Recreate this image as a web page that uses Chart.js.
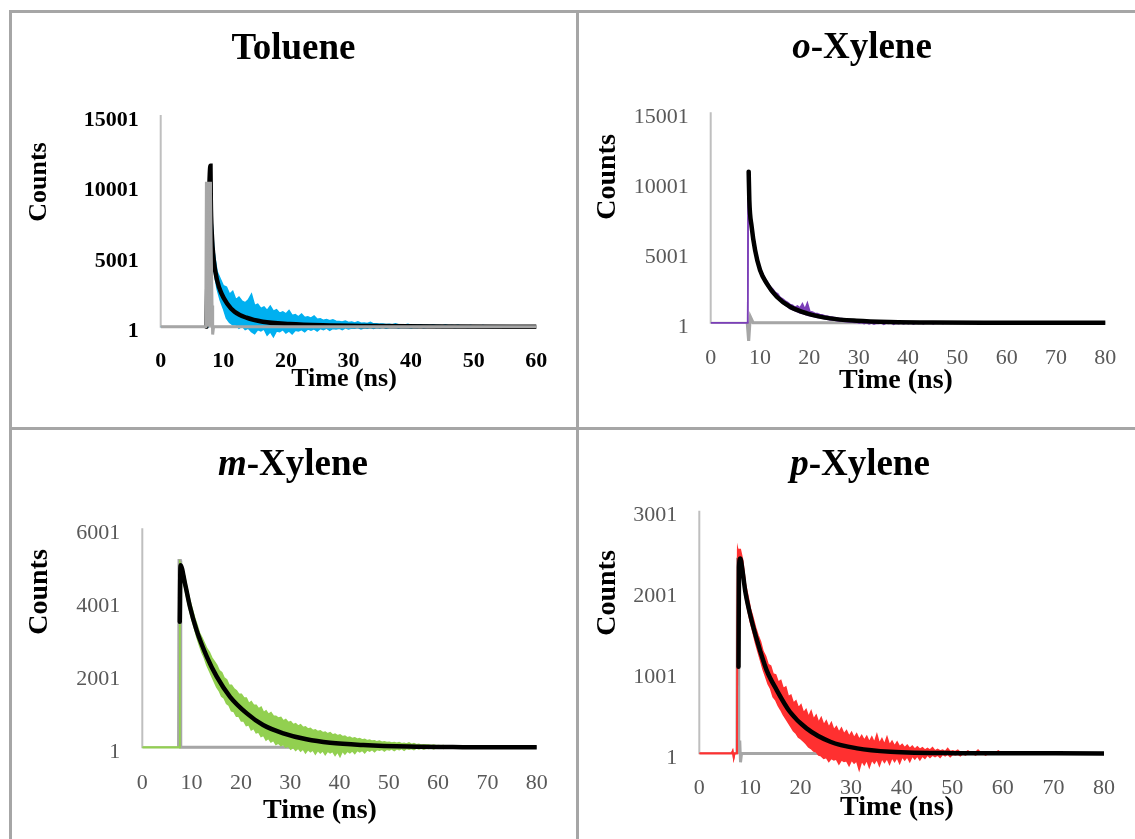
<!DOCTYPE html>
<html>
<head>
<meta charset="utf-8">
<title>Fluorescence decays</title>
<script src="https://cdn.jsdelivr.net/npm/chart.js@4.4.1/dist/chart.umd.min.js"></script>
<style>
  html, body { margin: 0; padding: 0; background: #fff; }
  #page { position: relative; width: 1135px; height: 839px; overflow: hidden; }
  .rule { position: absolute; background: #a6a6a6; }
  canvas { position: absolute; left: 0; top: 0; }
</style>
</head>
<body>
<div id="page">
  <div class="rule" style="left:9px;top:10px;width:1126px;height:3px"></div>
  <div class="rule" style="left:9px;top:10px;width:3px;height:829px"></div>
  <div class="rule" style="left:576px;top:10px;width:3px;height:829px"></div>
  <div class="rule" style="left:9px;top:427px;width:1126px;height:3px"></div>
  <canvas id="toluene" width="1135" height="839"></canvas>
  <canvas id="oxylene" width="1135" height="839"></canvas>
  <canvas id="mxylene" width="1135" height="839"></canvas>
  <canvas id="pxylene" width="1135" height="839"></canvas>
</div>
<script>
// Noisy counts are kept as the upper / lower edge of the scatter band,
// sampled every half nanosecond after a short lead-in.

// ---------- Toluene ----------
const tolTimeTicks = [0, 10, 20, 30, 40, 50, 60];
const tolCountTicks = [1, 5001, 10001, 15001];
const tolLeadTime = [0, 7.5];
const tolLeadCounts = [0, 0];
const tolBandStart = 8.0; // ns
const tolBandStep = 0.5;  // ns
const tolCountsHigh = [
    9000, 5400, 3900, 3400, 2900, 2800, 2300, 2500, 1900, 2100,
    1800, 1700, 1900, 2300, 1500, 1600, 1300, 1400, 1150, 1450,
    1100, 1200, 950, 1050, 900, 1150, 800, 850, 700, 900,
    650, 700, 600, 750, 520, 560, 450, 500, 420, 480,
    380, 360, 330, 400, 300, 330, 260, 350, 240, 260,
    220, 300, 200, 210, 180, 190, 160, 170, 140, 200,
    130, 140, 120, 170, 110, 120, 100, 140, 90, 100,
    80, 120, 80, 90, 70, 110, 60, 80, 60, 100,
    50, 70, 50, 90, 40, 60, 40, 80, 30, 50,
    30, 40, 20
];
const tolCountsLow = [
    8800, 4000, 2700, 1900, 1300, 600, 300, 150, 150, -100,
    50, -200, -100, -350, -500, -200, -300, -150, -600, -350,
    -700, -300, -350, -200, -450, -300, -500, -250, -300, -200,
    -350, -150, -250, -150, -300, -120, -200, -100, -250, -120,
    -150, -100, -200, -80, -150, -90, -100, -60, -150, -70,
    -100, -50, -120, -60, -80, -40, -100, -50, -60, -30,
    -90, -40, -60, -30, -80, -40, -50, -20, -70, -30,
    -40, -20, -60, -20, -50, -20, -40, -10, -60, -20,
    -30, -10, -50, -20, -30, -10, -40, -10, -20, -10,
    -60, -10, -30
];
const tolFitTime = [7.3, 7.95, 8.0, 8.16, 8.48, 9.0, 9.7, 10.6, 11.8, 13.7, 16.3, 20.6, 25.9, 33.8, 45, 60];
const tolFitCounts = [0, 11400, 9000, 6600, 4700, 3300, 2360, 1650, 1060, 640, 355, 190, 100, 50, 10, 0];
const tolIrfTime = [0, 7.2, 7.3, 7.95, 8.05, 8.2, 8.3, 8.45, 60];
const tolIrfCounts = [0, 0, 10170, 10170, 6000, 1500, -550, 0, 0];

// ---------- o-Xylene ----------
const oxTimeTicks = [0, 10, 20, 30, 40, 50, 60, 70, 80];
const oxCountTicks = [1, 5001, 10001, 15001];
const oxLeadTime = [0, 7.5, 7.6];
const oxLeadCounts = [0, 0, 9200];
const oxBandStart = 8.1;
const oxBandStep = 0.5;
const oxCountsHigh = [
    7700, 6300, 5150, 4450, 3800, 3450, 3100, 2850, 2550, 2400,
    2150, 2050, 1800, 1700, 1550, 1450, 1300, 1250, 1100, 1200,
    1050, 1350, 950, 1400, 800, 760, 680, 650, 580, 560,
    500, 480, 420, 400, 360, 340, 300, 290, 260, 240,
    220, 200, 190, 180, 160, 160, 140, 130, 120, 110,
    100, 100, 90, 80, 70, 70, 60, 60, 50, 50,
    40, 40, 40, 40, 30, 30, 30, 30, 20, 20,
    20, 20, 10, 10, 10, 10, 10, 10, 0, 0,
    0, 0
];
const oxCountsLow = [
    7400, 5900, 4800, 4150, 3550, 3150, 2850, 2550, 2300, 2050,
    1900, 1700, 1550, 1400, 1250, 1150, 1000, 950, 850, 780,
    700, 650, 600, 540, 500, 460, 420, 380, 350, 320,
    290, 250, 220, 200, 170, 150, 130, 110, 90, 80,
    60, 50, 20, 30, -40, 10, -60, -10, -80, -20,
    -100, -30, -60, -20, -120, -30, -50, -20, -110, -30,
    -70, -20, -90, -20, -60, -10, -100, -20, -50, -10,
    -80, -10, -40, -10, -90, 0, -30, 0, -70, 0,
    -40, 0
];
const oxFitTime = [7.7, 7.83, 8.3, 9.0, 10.0, 11.35, 13.4, 16.1, 19.5, 24.2, 29.6, 36.3, 45, 60, 80];
const oxFitCounts = [10770, 8750, 6850, 5180, 3760, 2810, 1855, 1140, 670, 310, 140, 50, 10, 0, 0];
const oxIrfTime = [7.4, 7.7, 7.95, 8.05, 8.6, 80];
const oxIrfCounts = [0, -1350, 0, 420, 0, 0];

// ---------- m-Xylene ----------
const mxTimeTicks = [0, 10, 20, 30, 40, 50, 60, 70, 80];
const mxCountTicks = [1, 2001, 4001, 6001];
const mxLeadTime = [0, 7.45, 7.6];
const mxLeadCounts = [0, 0, 5080];
const mxBandStart = 8.1;
const mxBandStep = 0.5;
const mxCountsHigh = [
    4950, 4680, 4350, 4050, 3800, 3560, 3350, 3130, 3000, 2850,
    2700, 2600, 2450, 2350, 2250, 2100, 2050, 1900, 1850, 1700,
    1700, 1600, 1550, 1450, 1450, 1350, 1350, 1200, 1250, 1150,
    1150, 1050, 1100, 950, 1000, 900, 950, 850, 850, 800,
    820, 720, 760, 680, 700, 620, 650, 580, 620, 540,
    560, 500, 520, 460, 480, 430, 450, 400, 420, 370,
    400, 340, 360, 320, 340, 290, 310, 260, 280, 240,
    260, 220, 240, 200, 220, 180, 200, 170, 180, 150,
    170, 140, 150, 130, 140, 120, 130, 110, 130, 100,
    110, 90, 120, 80, 100, 70, 80, 60, 70, 60,
    60, 50, 60, 40, 50, 40, 50, 30, 40, 30,
    40, 20, 30, 20, 30, 20, 20, 20, 20, 10,
    20, 10, 20, 10, 10
];
const mxCountsLow = [
    4650, 4380, 4050, 3750, 3480, 3250, 3000, 2800, 2600, 2450,
    2250, 2100, 1950, 1800, 1650, 1550, 1400, 1350, 1200, 1150,
    1000, 980, 850, 850, 720, 720, 600, 620, 480, 520,
    400, 420, 300, 330, 200, 250, 150, 190, 80, 120,
    50, 80, 0, 40, -50, 0, -80, -20, -100, -40,
    -150, -60, -120, -70, -180, -80, -150, -90, -200, -100,
    -150, -110, -220, -120, -250, -100, -180, -100, -150, -90,
    -170, -80, -120, -80, -150, -70, -100, -60, -120, -60,
    -80, -50, -100, -50, -70, -40, -90, -40, -60, -30,
    -80, -30, -50, -30, -60, -20, -40, -20, -50, -20,
    -30, -10, -40, -10, -20, -10, -30, -10, -20, 0,
    -10, 0, -20, 0, -10, 0, -10, 0, 0, 0,
    -10, 0, 0, 0, 0
];
const mxFitTime = [7.6, 7.75, 8.66, 9.67, 11.0, 13.1, 15.1, 17.8, 21.2, 24.5, 28.6, 33.3, 38.1, 44.8, 54, 65, 80];
const mxFitCounts = [3440, 4990, 4490, 3850, 3210, 2480, 1935, 1385, 930, 610, 385, 220, 125, 63, 20, 5, 0];
const mxIrfTime = [7.35, 7.45, 7.7, 7.8, 80];
const mxIrfCounts = [0, 5120, 5120, 0, 0];

// ---------- p-Xylene ----------
const pxTimeTicks = [0, 10, 20, 30, 40, 50, 60, 70, 80];
const pxCountTicks = [1, 1001, 2001, 3001];
const pxLeadTime = [0, 6.4, 6.6, 6.8, 7.0, 7.45, 7.6];
const pxLeadCounts = [0, 0, 30, -60, 0, 0, 2520];
const pxBandStart = 8.1;
const pxBandStep = 0.5;
const pxCountsHigh = [
    2520, 2380, 2100, 1950, 1790, 1680, 1560, 1460, 1380, 1260,
    1200, 1100, 1080, 980, 970, 880, 900, 800, 820, 700,
    720, 620, 650, 560, 600, 500, 540, 450, 520, 420,
    470, 380, 440, 350, 400, 320, 380, 290, 330, 260,
    310, 240, 280, 210, 260, 190, 240, 170, 220, 160,
    210, 140, 200, 130, 230, 120, 180, 110, 200, 100,
    150, 90, 140, 80, 110, 70, 100, 60, 90, 50,
    80, 50, 70, 40, 60, 40, 70, 30, 50, 30,
    40, 20, 60, 20, 30, 20, 40, 10, 20, 10,
    30, 10, 20, 10, 40, 10, 20, 10, 10, 10,
    20, 10, 30, 10, 10
];
const pxCountsLow = [
    2380, 2180, 1930, 1770, 1620, 1500, 1370, 1260, 1150, 1040,
    950, 860, 800, 700, 660, 590, 540, 480, 430, 380,
    330, 280, 250, 200, 180, 150, 120, 80, 60, 30,
    20, -20, -30, -60, -50, -100, -60, -80, -70, -130,
    -80, -100, -90, -150, -80, -120, -90, -200, -90, -140,
    -80, -170, -80, -120, -70, -150, -60, -110, -60, -130,
    -50, -100, -50, -120, -40, -80, -40, -100, -30, -70,
    -30, -80, -30, -60, -20, -50, -20, -40, -20, -50,
    -10, -30, -10, -40, -10, -20, -10, -30, 0, -20,
    0, -10, 0, -20, 0, -10, 0, -20, 0, -10,
    0, -10, 0, -10, 0
];
const pxFitTime = [7.75, 7.85, 8.1, 8.5, 9.05, 10.0, 11.4, 13.3, 15.3, 17.9, 21.2, 25.9, 31.2, 37.8, 50, 80];
const pxFitCounts = [1071, 2300, 2411, 2280, 2020, 1730, 1400, 1030, 783, 515, 309, 144, 62, 20, 3, 0];
const pxIrfTime = [7.45, 7.55, 7.7, 7.8, 8.0, 8.15, 8.35, 80];
const pxIrfCounts = [0, 2400, 2400, 0, 160, -110, 0, 0];

// ---------- layout / style ----------
const PAGE_W = 1135, PAGE_H = 839;
const AXIS_W = 100, AXIS_H = 40;
const FONT = '"Liberation Serif", "Times New Roman", serif';
const IRF_GREY = '#a6a6a6';
const AXIS_GREY = '#bfbfbf';

function toPoints(times, counts) {
    return times.map((t, i) => ({ x: t, y: counts[i] }));
}

// lead-in points followed by the evenly sampled band edge
function sampled(leadTime, leadCounts, start, step, counts) {
    const pts = toPoints(leadTime, leadCounts);
    counts.forEach((c, i) => pts.push({ x: +(start + i * step).toFixed(2), y: c }));
    return pts;
}

// axis lines cross at count = 1, the y line stops there (Excel style)
const axisLines = {
    id: 'axisLines',
    beforeDatasetsDraw(chart, args, opts) {
        const { ctx, scales: { x, y } } = chart;
        const yb = y.getPixelForValue(opts.base);
        ctx.save();
        ctx.strokeStyle = AXIS_GREY;
        ctx.lineWidth = 2;
        ctx.beginPath();
        ctx.moveTo(x.getPixelForValue(x.min), y.getPixelForValue(y.max));
        ctx.lineTo(x.getPixelForValue(x.min), yb);
        ctx.lineTo(x.getPixelForValue(x.max), yb);
        ctx.stroke();
        ctx.restore();
    }
};

// panel title (italic prefix + bold rest) and both axis titles
const panelText = {
    id: 'panelText',
    afterDraw(chart, args, o) {
        const ctx = chart.ctx;
        ctx.save();
        ctx.fillStyle = '#000';
        ctx.textBaseline = 'alphabetic';
        const t = o.title;
        const italic = `italic bold ${t.size}px ${FONT}`;
        const bold = `bold ${t.size}px ${FONT}`;
        ctx.font = italic;
        const w1 = t.prefix ? ctx.measureText(t.prefix).width : 0;
        ctx.font = bold;
        const w2 = ctx.measureText(t.text).width;
        let x0 = t.x - (w1 + w2) / 2;
        ctx.textAlign = 'left';
        if (t.prefix) {
            ctx.font = italic;
            ctx.fillText(t.prefix, x0, t.y);
            x0 += w1;
        }
        ctx.font = bold;
        ctx.fillText(t.text, x0, t.y);

        ctx.textAlign = 'center';
        ctx.font = `bold ${o.xTitle.size}px ${FONT}`;
        ctx.fillText(o.xTitle.text, o.xTitle.x, o.xTitle.y);

        ctx.font = `bold ${o.yTitle.size}px ${FONT}`;
        ctx.textBaseline = 'middle';
        ctx.translate(o.yTitle.x, o.yTitle.y);
        ctx.rotate(-Math.PI / 2);
        ctx.fillText(o.yTitle.text, 0, 0);
        ctx.restore();
    }
};

function makePanel(p) {
    const yBase = 1;
    const b = p.box;
    // choose the lower bound so the axis line (count 1) lands at box.base
    const yMin = yBase - (b.bottom - b.base) * (p.yMax - yBase) / (b.base - b.top);

    // scatter band: top edge filled down to the bottom edge
    const bandHigh = {
        data: sampled(p.leadTime, p.leadCounts, p.start, p.step, p.high),
        borderColor: p.color, backgroundColor: p.color,
        borderWidth: 1.6, pointRadius: 0, tension: 0,
        fill: '+1',
        order: 2
    };
    const bandLow = {
        data: sampled(p.leadTime, p.leadCounts, p.start, p.step, p.low),
        borderColor: p.color,
        borderWidth: 1.6, pointRadius: 0, tension: 0,
        fill: false,
        order: 2
    };
    const fit = {
        data: toPoints(p.fitTime, p.fitCounts),
        borderColor: '#000', borderWidth: 4.5, pointRadius: 0,
        cubicInterpolationMode: 'monotone',
        borderJoinStyle: p.sharpFit ? 'miter' : 'round', borderCapStyle: 'round',
        order: 1
    };
    const irf = {
        data: toPoints(p.irfTime, p.irfCounts),
        borderColor: IRF_GREY, backgroundColor: IRF_GREY,
        borderWidth: 3, pointRadius: 0, tension: 0, fill: 'origin',
        order: p.irfOnTop ? 0 : 3
    };

    const tickFont = { family: FONT, size: 22, weight: p.boldTicks ? 'bold' : 'normal' };
    const tickColor = p.boldTicks ? '#000' : '#595959';

    new Chart(document.getElementById(p.canvas), {
        type: 'line',
        data: { datasets: [bandHigh, bandLow, fit, irf] },
        options: {
            responsive: false,
            animation: false,
            events: [],
            layout: {
                padding: {
                    left: b.left - AXIS_W,
                    right: PAGE_W - b.right,
                    top: b.top,
                    bottom: PAGE_H - b.bottom - AXIS_H
                }
            },
            plugins: {
                legend: { display: false },
                tooltip: { enabled: false },
                axisLines: { base: yBase },
                panelText: p.text
            },
            scales: {
                x: {
                    type: 'linear',
                    min: 0,
                    max: p.xMax,
                    grid: { display: false, drawTicks: false },
                    border: { display: false },
                    afterBuildTicks: s => { s.ticks = p.xTicks.map(v => ({ value: v })); },
                    afterFit: s => { s.height = AXIS_H; s.paddingLeft = 0; s.paddingRight = 0; },
                    ticks: {
                        padding: p.xTickPad, font: tickFont, color: tickColor,
                        maxRotation: 0, autoSkip: false,
                        callback: v => String(v)
                    }
                },
                y: {
                    type: 'linear',
                    min: yMin,
                    max: p.yMax,
                    grid: { display: false, drawTicks: false },
                    border: { display: false },
                    afterBuildTicks: s => { s.ticks = p.yTicks.map(v => ({ value: v })); },
                    afterFit: s => { s.width = AXIS_W; s.paddingTop = 0; s.paddingBottom = 0; },
                    ticks: {
                        padding: 22, labelOffset: 5, font: tickFont, color: tickColor,
                        autoSkip: false,
                        callback: v => String(v)
                    }
                }
            }
        },
        plugins: [axisLines, panelText]
    });
}

makePanel({
    canvas: 'toluene', color: '#00b0f0', boldTicks: true, irfOnTop: true, sharpFit: true,
    box: { left: 160.7, right: 536.3, top: 115, base: 326.7, bottom: 345 },
    xMax: 60, yMax: 15001, xTicks: tolTimeTicks, yTicks: tolCountTicks, xTickPad: 3.5,
    leadTime: tolLeadTime, leadCounts: tolLeadCounts,
    start: tolBandStart, step: tolBandStep, high: tolCountsHigh, low: tolCountsLow,
    fitTime: tolFitTime, fitCounts: tolFitCounts,
    irfTime: tolIrfTime, irfCounts: tolIrfCounts,
    text: {
        title: { prefix: '', text: 'Toluene', x: 293.5, y: 59, size: 37 },
        yTitle: { text: 'Counts', x: 39, y: 182, size: 26 },
        xTitle: { text: 'Time (ns)', x: 344, y: 386, size: 26 }
    }
});

makePanel({
    canvas: 'oxylene', color: '#7b3fb8', boldTicks: false, irfOnTop: false,
    box: { left: 710.7, right: 1105.3, top: 112.3, base: 322.7, bottom: 341 },
    xMax: 80, yMax: 15001, xTicks: oxTimeTicks, yTicks: oxCountTicks, xTickPad: 4,
    leadTime: oxLeadTime, leadCounts: oxLeadCounts,
    start: oxBandStart, step: oxBandStep, high: oxCountsHigh, low: oxCountsLow,
    fitTime: oxFitTime, fitCounts: oxFitCounts,
    irfTime: oxIrfTime, irfCounts: oxIrfCounts,
    text: {
        title: { prefix: 'o', text: '-Xylene', x: 862, y: 58, size: 37 },
        yTitle: { text: 'Counts', x: 608, y: 177, size: 28 },
        xTitle: { text: 'Time (ns)', x: 896, y: 388, size: 28 }
    }
});

makePanel({
    canvas: 'mxylene', color: '#92d050', boldTicks: false, irfOnTop: false,
    box: { left: 142.3, right: 536.7, top: 528.3, base: 747.3, bottom: 766 },
    xMax: 80, yMax: 6001, xTicks: mxTimeTicks, yTicks: mxCountTicks, xTickPad: 4,
    leadTime: mxLeadTime, leadCounts: mxLeadCounts,
    start: mxBandStart, step: mxBandStep, high: mxCountsHigh, low: mxCountsLow,
    fitTime: mxFitTime, fitCounts: mxFitCounts,
    irfTime: mxIrfTime, irfCounts: mxIrfCounts,
    text: {
        title: { prefix: 'm', text: '-Xylene', x: 293, y: 475, size: 37 },
        yTitle: { text: 'Counts', x: 40, y: 592, size: 28 },
        xTitle: { text: 'Time (ns)', x: 320, y: 818, size: 28 }
    }
});

makePanel({
    canvas: 'pxylene', color: '#ff3030', boldTicks: false, irfOnTop: false,
    box: { left: 699.3, right: 1104, top: 510.7, base: 753.3, bottom: 773 },
    xMax: 80, yMax: 3001, xTicks: pxTimeTicks, yTicks: pxCountTicks, xTickPad: 2,
    leadTime: pxLeadTime, leadCounts: pxLeadCounts,
    start: pxBandStart, step: pxBandStep, high: pxCountsHigh, low: pxCountsLow,
    fitTime: pxFitTime, fitCounts: pxFitCounts,
    irfTime: pxIrfTime, irfCounts: pxIrfCounts,
    text: {
        title: { prefix: 'p', text: '-Xylene', x: 860, y: 475, size: 37 },
        yTitle: { text: 'Counts', x: 608, y: 593, size: 28 },
        xTitle: { text: 'Time (ns)', x: 897, y: 815, size: 28 }
    }
});
</script>
</body>
</html>
